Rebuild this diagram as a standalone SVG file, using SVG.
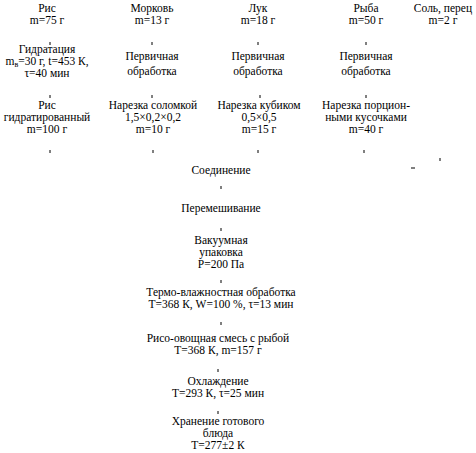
<svg xmlns="http://www.w3.org/2000/svg" width="476" height="453" viewBox="0 0 476 453">
<style>
text{font-family:"Liberation Serif","Times New Roman",serif;font-size:11.5px;fill:#000;text-anchor:middle}
.t{stroke:#000;stroke-width:1;fill:none}
</style>
<rect width="476" height="453" fill="#fff"/>
<g id="n-ris"><text x="47" y="12">Рис</text><text x="47" y="24">m=75 г</text></g>
<g id="n-morkov"><text x="152" y="12">Морковь</text><text x="152" y="24">m=13 г</text></g>
<g id="n-luk"><text x="258" y="12">Лук</text><text x="258" y="24">m=18 г</text></g>
<g id="n-ryba"><text x="366" y="12">Рыба</text><text x="366" y="24">m=50 г</text></g>
<g id="n-sol"><text x="443" y="12">Соль, перец</text><text x="443" y="24">m=2 г</text></g>
<g id="n-gidr"><text x="47" y="53">Гидратация</text><text x="47" y="65">m<tspan font-size="8" dy="2">в</tspan><tspan dy="-2">=30 г, t=453 К,</tspan></text><text x="47" y="77">τ=40 мин</text></g>
<g id="n-perv1"><text x="152" y="60">Первичная</text><text x="152" y="75">обработка</text></g>
<g id="n-perv2"><text x="258" y="60">Первичная</text><text x="258" y="75">обработка</text></g>
<g id="n-perv3"><text x="366" y="60">Первичная</text><text x="366" y="75">обработка</text></g>
<g id="n-risg"><text x="47" y="109">Рис</text><text x="47" y="121">гидратированный</text><text x="47" y="133">m=100 г</text></g>
<g id="n-sol-nar"><text x="153" y="109">Нарезка соломкой</text><text x="153" y="121">1,5×0,2×0,2</text><text x="153" y="133">m=10 г</text></g>
<g id="n-kub"><text x="259" y="109">Нарезка кубиком</text><text x="259" y="121">0,5×0,5</text><text x="259" y="133">m=15 г</text></g>
<g id="n-porc"><text x="366" y="109">Нарезка порцион-</text><text x="366" y="121">ными кусочками</text><text x="366" y="133">m=40 г</text></g>
<g id="n-soed"><text x="221" y="174">Соединение</text></g>
<g id="n-perem"><text x="221" y="212">Перемешивание</text></g>
<g id="n-vak"><text x="221" y="244">Вакуумная</text><text x="221" y="256">упаковка</text><text x="221" y="268">Р=200 Па</text></g>
<g id="n-termo"><text x="221" y="296">Термо-влажностная обработка</text><text x="221" y="308">T=368 К, W=100 %, τ=13 мин</text></g>
<g id="n-smes"><text x="218" y="342">Рисо-овощная смесь с рыбой</text><text x="218" y="354">T=368 К, m=157 г</text></g>
<g id="n-ohl"><text x="218" y="385">Охлаждение</text><text x="218" y="397">T=293 К, τ=25 мин</text></g>
<g id="n-hran"><text x="218" y="425">Хранение готового</text><text x="218" y="437">блюда</text><text x="218" y="449">T=277±2 К</text></g>
<g id="connectors" class="t">
<path d="M50 42v3M152 42v3M258 42v3M366 42v3"/>
<path d="M50 95v3M152 95v3M260 95v3M366 95v3"/>
<path d="M50 150v3M153 150v3M258 150v3M364 150v3"/>
<path d="M411 168h4M440 158v3"/>
<path d="M221 186v3M221 228v3M221 280v3M221 322v3M218 369v3M218 411v3"/>
</g>
</svg>
